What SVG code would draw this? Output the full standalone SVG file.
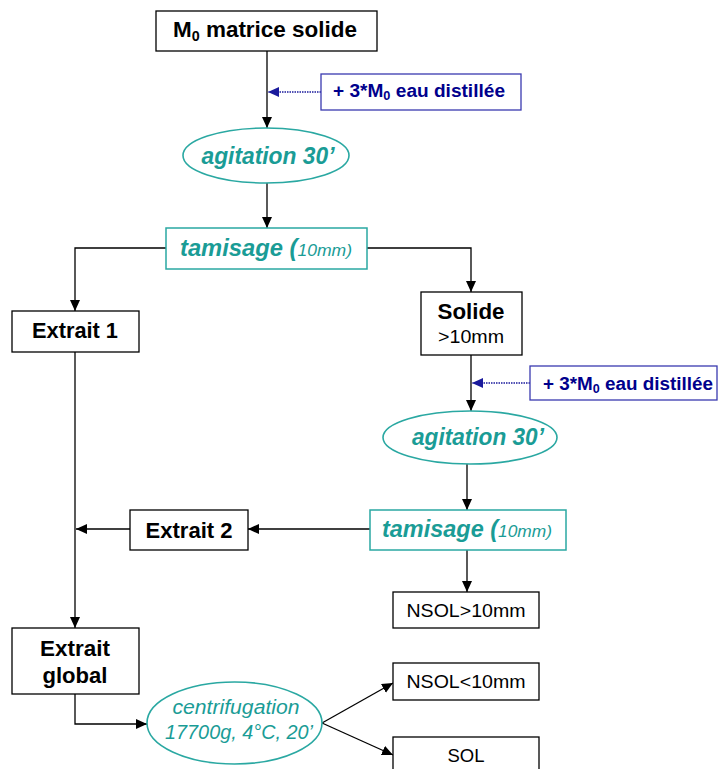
<svg xmlns="http://www.w3.org/2000/svg" width="720" height="769" viewBox="0 0 720 769">
<style>
.box{fill:#fff;stroke:#000;stroke-width:1.3}
.tbox{fill:#fff;stroke:#2aa8a2;stroke-width:1.5}
.bbox{fill:#fff;stroke:#3a3ab0;stroke-width:1.3}
.ell{fill:#fff;stroke:#2aa8a2;stroke-width:1.6}
.bt{font-family:"Liberation Sans",Arial,sans-serif;font-weight:bold;fill:#000;text-anchor:middle}
.rt{font-family:"Liberation Sans",Arial,sans-serif;fill:#000;text-anchor:middle}
.blt{font-family:"Liberation Sans",Arial,sans-serif;font-weight:bold;fill:#00008c;text-anchor:middle}
.tt{font-family:"Liberation Sans",Arial,sans-serif;font-weight:bold;font-style:italic;fill:#1a9c96;text-anchor:middle}
.ti{font-family:"Liberation Sans",Arial,sans-serif;font-style:italic;fill:#1a9c96;text-anchor:middle}
.ln{fill:none;stroke:#000;stroke-width:1.3}
.dl{fill:none;stroke:#1a1a9c;stroke-width:1.5;stroke-dasharray:1.5 1}
</style>
<defs>
<marker id="ah" markerUnits="userSpaceOnUse" markerWidth="12" markerHeight="11" refX="11" refY="5" orient="auto"><path d="M0,0 L11,5 L0,10 z" fill="#000"/></marker>
<marker id="bh" markerUnits="userSpaceOnUse" markerWidth="12" markerHeight="11" refX="11" refY="5" orient="auto"><path d="M0,0 L11,5 L0,10 z" fill="#1a1a9c"/></marker>
</defs>
<g id="connectors">
<path class="ln" d="M267 51 V128" marker-end="url(#ah)"/>
<path class="dl" d="M321 92 H268" marker-end="url(#bh)"/>
<path class="ln" d="M267 183 V228" marker-end="url(#ah)"/>
<path class="ln" d="M166 248 H75 V311" marker-end="url(#ah)"/>
<path class="ln" d="M367 248 H471 V292" marker-end="url(#ah)"/>
<path class="ln" d="M75 352 V628" marker-end="url(#ah)"/>
<path class="ln" d="M471 355 V411" marker-end="url(#ah)"/>
<path class="dl" d="M530 383 H472" marker-end="url(#bh)"/>
<path class="ln" d="M467 464 V510" marker-end="url(#ah)"/>
<path class="ln" d="M467 550 V592" marker-end="url(#ah)"/>
<path class="ln" d="M370 529 H248" marker-end="url(#ah)"/>
<path class="ln" d="M130 529 H76" marker-end="url(#ah)"/>
<path class="ln" d="M75 694 V724 H147" marker-end="url(#ah)"/>
<path class="ln" d="M322 723 L393 683" marker-end="url(#ah)"/>
<path class="ln" d="M322 723 L393 755" marker-end="url(#ah)"/>
</g>
<g id="m0">
<rect class="box" x="156" y="11" width="221" height="40"/>
<text class="bt" x="265" y="37" font-size="22" textLength="184" lengthAdjust="spacingAndGlyphs">M<tspan font-size="14" dy="4">0</tspan><tspan dy="-4"> matrice solide</tspan></text>
</g>
<g id="eau1">
<rect class="bbox" x="321" y="74" width="200" height="36"/>
<text class="blt" x="419" y="97" font-size="18" textLength="172" lengthAdjust="spacingAndGlyphs">+ 3*M<tspan font-size="12" dy="3">0</tspan><tspan dy="-3"> eau distillée</tspan></text>
</g>
<g id="agitation1">
<ellipse class="ell" cx="266" cy="155.5" rx="83" ry="27.5"/>
<text class="tt" x="268" y="164" font-size="23" textLength="133" lengthAdjust="spacingAndGlyphs">agitation 30’</text>
</g>
<g id="tamisage1">
<rect class="tbox" x="166" y="228" width="201" height="41"/>
<text class="tt" x="266" y="256" font-size="23" textLength="172" lengthAdjust="spacingAndGlyphs">tamisage (<tspan font-weight="normal" font-size="17">10mm)</tspan></text>
</g>
<g id="extrait1">
<rect class="box" x="12" y="311" width="127" height="41"/>
<text class="bt" x="75" y="338" font-size="22" textLength="86" lengthAdjust="spacingAndGlyphs">Extrait 1</text>
</g>
<g id="solide">
<rect class="box" x="421" y="292" width="101" height="63"/>
<text class="bt" x="471" y="319" font-size="22" textLength="67" lengthAdjust="spacingAndGlyphs">Solide</text>
<text class="rt" x="471" y="343" font-size="19" textLength="66" lengthAdjust="spacingAndGlyphs">&gt;10mm</text>
</g>
<g id="eau2">
<rect class="bbox" x="530" y="366" width="187" height="34"/>
<text class="blt" x="628" y="390" font-size="18" textLength="170" lengthAdjust="spacingAndGlyphs">+ 3*M<tspan font-size="12" dy="3">0</tspan><tspan dy="-3"> eau distillée</tspan></text>
</g>
<g id="agitation2">
<ellipse class="ell" cx="470" cy="437.5" rx="87" ry="26.5"/>
<text class="tt" x="478" y="445" font-size="23" textLength="132" lengthAdjust="spacingAndGlyphs">agitation 30’</text>
</g>
<g id="tamisage2">
<rect class="tbox" x="370" y="510" width="196" height="40"/>
<text class="tt" x="467" y="537" font-size="23" textLength="170" lengthAdjust="spacingAndGlyphs">tamisage (<tspan font-weight="normal" font-size="17">10mm)</tspan></text>
</g>
<g id="extrait2">
<rect class="box" x="130" y="510" width="118" height="40"/>
<text class="bt" x="189" y="538" font-size="22" textLength="87" lengthAdjust="spacingAndGlyphs">Extrait 2</text>
</g>
<g id="nsol_gt">
<rect class="box" x="393" y="592" width="146" height="36"/>
<text class="rt" x="466" y="617" font-size="19" textLength="119" lengthAdjust="spacingAndGlyphs">NSOL&gt;10mm</text>
</g>
<g id="extraitglobal">
<rect class="box" x="12" y="628" width="127" height="66"/>
<text class="bt" x="75" y="656" font-size="22" textLength="70" lengthAdjust="spacingAndGlyphs">Extrait</text>
<text class="bt" x="75" y="683" font-size="22" textLength="65" lengthAdjust="spacingAndGlyphs">global</text>
</g>
<g id="centrifugation">
<ellipse class="ell" cx="234.5" cy="723" rx="87.5" ry="41"/>
<text class="ti" x="236" y="714" font-size="20" textLength="127" lengthAdjust="spacingAndGlyphs">centrifugation</text>
<text class="ti" x="239" y="739" font-size="20" textLength="148" lengthAdjust="spacingAndGlyphs">17700g, 4°C, 20’</text>
</g>
<g id="nsol_lt">
<rect class="box" x="393" y="663" width="146" height="37"/>
<text class="rt" x="466" y="688" font-size="19" textLength="119" lengthAdjust="spacingAndGlyphs">NSOL&lt;10mm</text>
</g>
<g id="sol">
<rect class="box" x="393" y="737" width="146" height="40"/>
<text class="rt" x="466" y="762" font-size="19" textLength="37" lengthAdjust="spacingAndGlyphs">SOL</text>
</g>
</svg>
